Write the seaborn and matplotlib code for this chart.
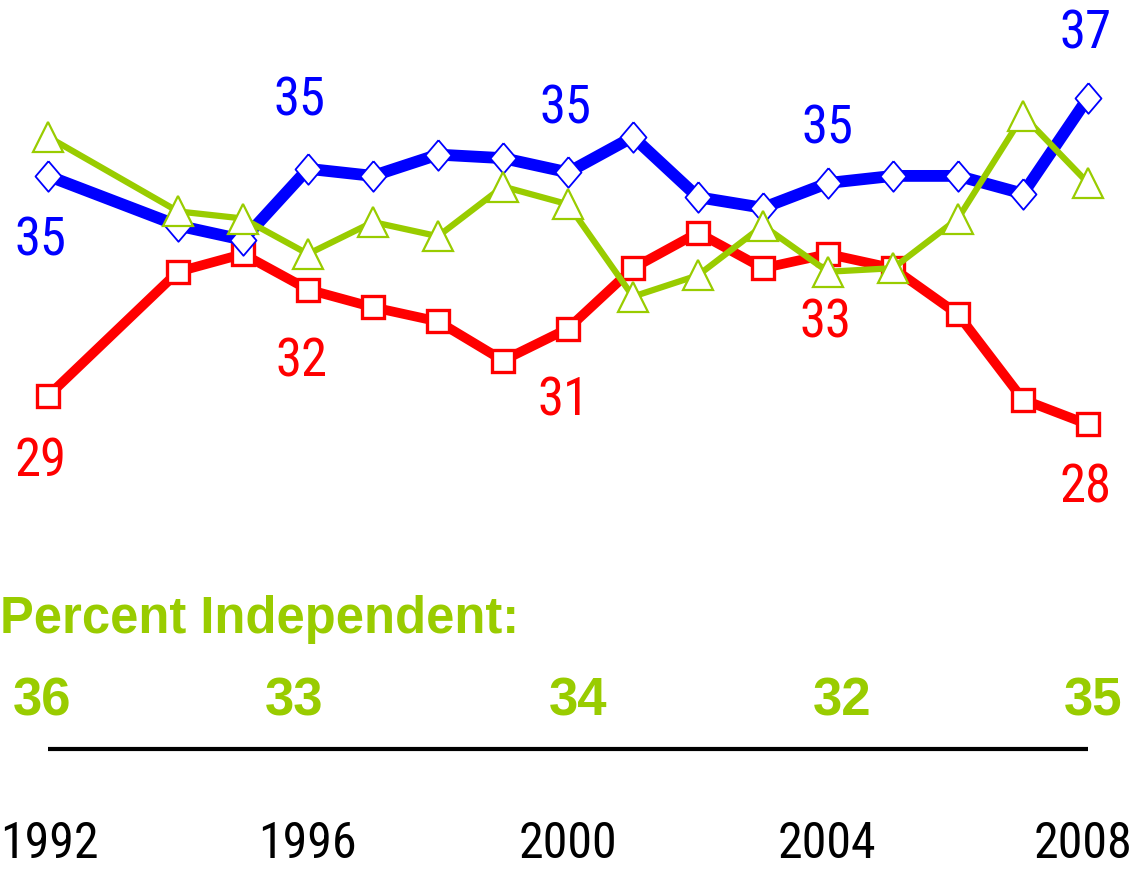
import matplotlib
matplotlib.use("Agg")
import matplotlib.pyplot as plt
from matplotlib import font_manager
import pandas as pd
import seaborn as sns

# ---- data ----
years = [1992, 1994, 1995, 1996, 1997, 1998, 1999, 2000,
         2001, 2002, 2003, 2004, 2005, 2006, 2007, 2008]
democrat = [35.2, 33.8, 33.4, 35.4, 35.2, 35.8, 35.7, 35.3,
            36.3, 34.6, 34.3, 35.0, 35.2, 35.2, 34.7, 37.4]
republican = [29.0, 32.5, 33.0, 32.0, 31.5, 31.1, 30.0, 30.9,
              32.6, 33.6, 32.6, 33.0, 32.6, 31.3, 28.9, 28.2]
independent = [36.3, 34.2, 34.0, 33.0, 33.9, 33.5, 34.9, 34.4,
               31.8, 32.4, 33.8, 32.5, 32.6, 34.0, 36.9, 35.0]

label_years = [1992, 1996, 2000, 2004, 2008]
dem_labels = [35, 35, 35, 35, 37]
rep_labels = [29, 32, 31, 33, 28]
ind_labels = [36, 33, 34, 32, 35]
tick_labels = ["1992", "1996", "2000", "2004", "2008"]

BLUE = "#0000FF"
RED = "#FF0000"
GREEN = "#99CC00"

df = pd.DataFrame({"year": years, "dem": democrat,
                   "rep": republican, "ind": independent})

# the original uses a narrow pixel font; pick a narrow face if there is one
installed = {f.name for f in font_manager.fontManager.ttflist}
narrow = next((n for n in ["Liberation Sans Narrow", "Roboto Condensed",
                           "Open Sans Condensed"] if n in installed), None)
if narrow:
    NUM_FONT, NUM_SIZE = [narrow, "DejaVu Sans"], 38
else:
    NUM_FONT, NUM_SIZE = ["Liberation Sans", "DejaVu Sans"], 31

sns.set_style("white")
plt.rcParams["font.family"] = NUM_FONT

W, H = 1137, 870
fig = plt.figure(figsize=(W / 100, H / 100), dpi=100)
ax = fig.add_axes([0, 0, 1, 1])

diamond = [(0, 1), (0.85, 0), (0, -1), (-0.85, 0), (0, 1)]

sns.lineplot(data=df, x="year", y="rep", ax=ax, color=RED, linewidth=7,
             marker="s", markersize=16.5, markerfacecolor="white",
             markeredgecolor=RED, markeredgewidth=2.4, sort=False)
sns.lineplot(data=df, x="year", y="dem", ax=ax, color=BLUE, linewidth=8.5,
             marker=diamond, markersize=22, markerfacecolor="white",
             markeredgecolor=BLUE, markeredgewidth=1.3, sort=False)
sns.lineplot(data=df, x="year", y="ind", ax=ax, color=GREEN, linewidth=4.5,
             marker="^", markersize=21, markerfacecolor="white",
             markeredgecolor=GREEN, markeredgewidth=1.6, sort=False)

# pixel layout of the original: 1992 at x=48, 65 px per year; value 29 at y=397, 35.5 px per point
ax.set_xlim(1992 - 48 / 65, 1992 + (W - 48) / 65)
ax.set_ylim(29 - (H - 397) / 35.5, 29 + 397 / 35.5)
ax.axis("off")

PT = 0.72  # points per pixel at 100 dpi

# value labels: (dx, dy) in pixels from marker to text baseline, dy down-positive
dem_offsets = [(-7, 79), (-8, -54), (-3, -50), (0, -41), (-2, -50)]
rep_offsets = [(-7, 79), (-6, 86), (-4, 86), (-2, 83), (-2, 77)]

for yr, lab, (dx, dy) in zip(label_years, dem_labels, dem_offsets):
    v = democrat[years.index(yr)]
    ax.annotate(str(lab), (yr, v), xytext=(dx * PT, -dy * PT),
                textcoords="offset points", ha="center", va="baseline",
                color=BLUE, fontsize=NUM_SIZE)
for yr, lab, (dx, dy) in zip(label_years, rep_labels, rep_offsets):
    v = republican[years.index(yr)]
    ax.annotate(str(lab), (yr, v), xytext=(dx * PT, -dy * PT),
                textcoords="offset points", ha="center", va="baseline",
                color=RED, fontsize=NUM_SIZE)

# lower section
xt = ax.get_xaxis_transform()
fig.text(0, 1 - 633 / H, "Percent Independent:", color=GREEN,
         fontsize=36.5, fontweight="bold", ha="left", va="baseline",
         family=["Liberation Sans", "DejaVu Sans"])

ind_dx = [-6, -14, 10, 14, 5]
for yr, lab, dx in zip(label_years, ind_labels, ind_dx):
    ax.annotate(str(lab), (yr, 1 - 715 / H), xycoords=xt,
                xytext=(dx * PT, 0), textcoords="offset points",
                ha="center", va="baseline", color=GREEN, fontsize=38,
                fontweight="bold", family=["Liberation Sans", "DejaVu Sans"])

ax.plot([label_years[0], label_years[-1]], [1 - 750 / H] * 2,
        transform=xt, color="black", linewidth=3, solid_capstyle="butt")

# year labels, kept inside the canvas
tick_dx = [1, -1, 0, -1, -5]
for yr, lab, dx in zip(label_years, tick_labels, tick_dx):
    ax.annotate(lab, (yr, 2 / H), xycoords=xt, xytext=(dx * PT, 0),
                textcoords="offset points", ha="center", va="bottom",
                color="black", fontsize=NUM_SIZE - 2)

fig.savefig("out.png", dpi=100, facecolor="white")
